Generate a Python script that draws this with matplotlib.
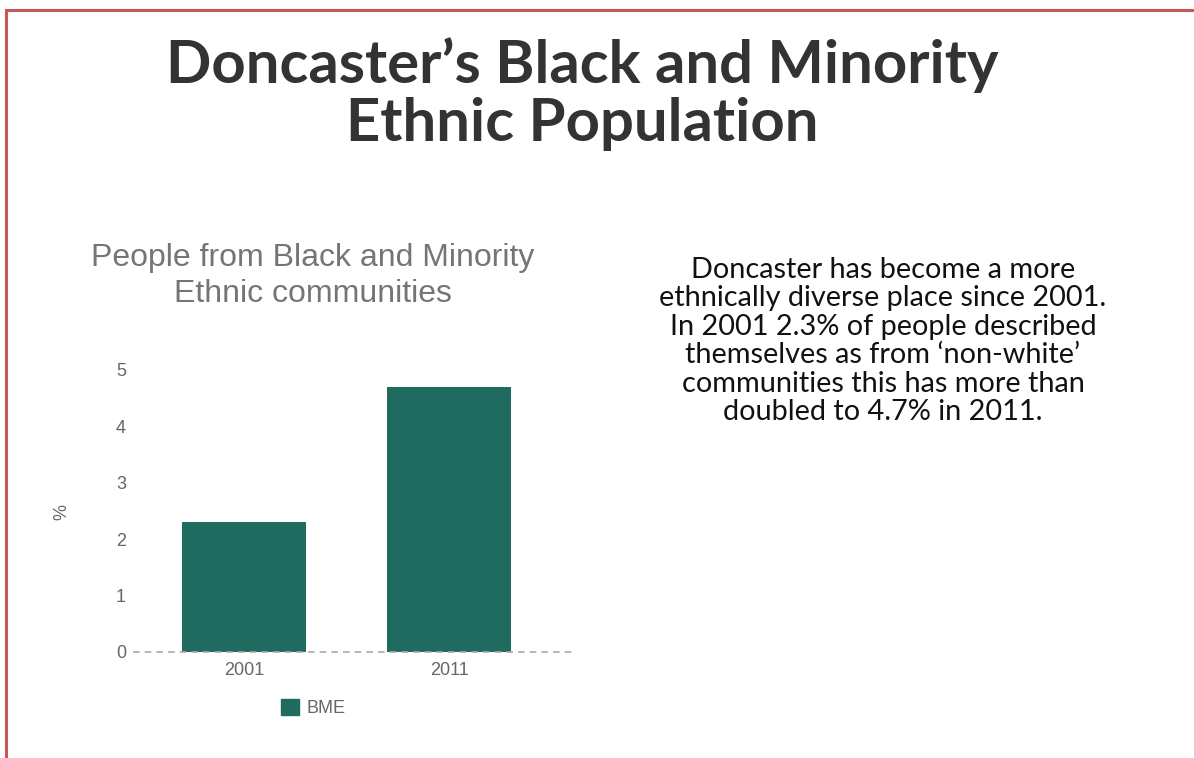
import matplotlib
matplotlib.use('Agg')
import matplotlib.pyplot as plt
from matplotlib.lines import Line2D
from matplotlib.patches import Patch

# values (%) for people from BME communities
years = ['2001', '2011']
bme_pct = [2.3, 4.7]
y_ticks = [0, 1, 2, 3, 4, 5]

title = 'Doncaster\u2019s Black and Minority\nEthnic Population'
chart_title = 'People from Black and Minority\nEthnic communities'
blurb = ('Doncaster has become a more\n'
         'ethnically diverse place since 2001.\n'
         'In 2001 2.3% of people described\n'
         'themselves as from \u2018non-white\u2019\n'
         'communities this has more than\n'
         'doubled to 4.7% in 2011.')

W, H = 1194, 758
fig = plt.figure(figsize=(W/100, H/100), dpi=100)
fig.patch.set_facecolor('white')

# red frame along the top and left
border = '#c8575a'
fig.add_artist(Line2D([6/W, 1], [1-10/H, 1-10/H], color=border, lw=2.2, transform=fig.transFigure))
fig.add_artist(Line2D([6/W, 6/W], [0, 1-10/H], color=border, lw=2.2, transform=fig.transFigure))

fig.text(582/W, 1-94/H, title, ha='center', va='center', fontsize=43, fontweight='bold',
         family='Lato', color='#333333', linespacing=1.11)

fig.text(883/W, 1-341/H, blurb, ha='center', va='center', fontsize=20.8,
         family='Lato', color='#111111', linespacing=1.12)

# bar chart
x0, x1, ytop, ybot = 133, 575, 370, 652
ax = fig.add_axes([x0/W, 1-ybot/H, (x1-x0)/W, (ybot-ytop)/H])
xs = range(len(years))
ax.bar(xs, bme_pct, width=0.605, color='#1f6b5f', zorder=2)
ax.set_xlim(-0.541, 1.612)
ax.set_ylim(0, 5)
ax.set_yticks(y_ticks)
ax.set_xticks(list(xs))
ax.set_xticklabels(years)
for s in ax.spines.values():
    s.set_visible(False)
ax.axhline(0, color='#aaaaaa', lw=1.2, ls=(0, (4, 3)), zorder=3, clip_on=False)
ax.tick_params(length=0, labelsize=13, labelcolor='#666666')
ax.tick_params(axis='x', pad=7)
ax.tick_params(axis='y', pad=5)
for lab in ax.get_xticklabels() + ax.get_yticklabels():
    lab.set_family('Liberation Sans')

fig.text(62/W, 1-512/H, '%', rotation=90, ha='center', va='center', fontsize=13,
         family='Liberation Sans', color='#666666')

fig.text(313/W, 1-276/H, chart_title, ha='center', va='center', fontsize=23,
         family='Liberation Sans', color='#757575', linespacing=1.24)

fig.legend(handles=[Patch(color='#1f6b5f', label='BME')], loc='center',
           bbox_to_anchor=(313/W, 1-708/H), frameon=False, handlelength=1.0,
           handleheight=1.0, handletextpad=0.4,
           prop={'family': 'Liberation Sans', 'size': 13}, labelcolor='#666666')

fig.savefig('out.png', dpi=100, facecolor='white')
